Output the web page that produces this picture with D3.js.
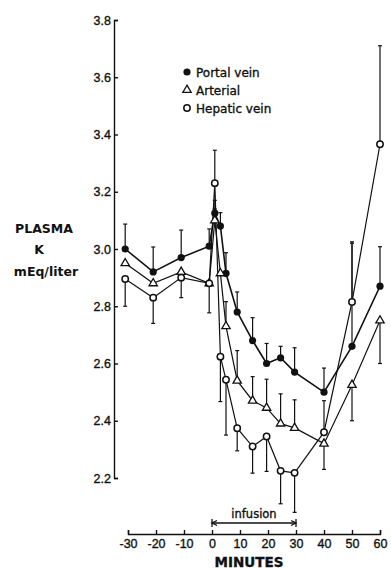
<!DOCTYPE html>
<html>
<head>
<meta charset="utf-8">
<script src="https://cdn.jsdelivr.net/npm/d3@7"></script>
<style>
	body { margin: 0; background: #fff; }
	svg { display: block; font-family: "DejaVu Sans", sans-serif; }
	svg text { fill: #111; stroke: #111; stroke-width: 0.35; }
	.axis text { font-size: 12.5px; }
	.axis path, .axis line { stroke: #111; stroke-width: 1.4; }
</style>
</head>
<body>
<div id="chart"></div>
<script>
/**
 * Data.
 */
var minutes = [-31, -21, -11, -1, 1, 3, 5, 9, 14.5, 19.5, 24.5, 29.5, 40, 50, 60];
var portalVein = [3.00, 2.92, 2.97, 3.01, 3.125, 3.08, 2.915, 2.78, 2.68, 2.60, 2.62, 2.57, 2.50, 2.66, 2.87];
var arterial = [2.95, 2.88, 2.92, 2.88, 3.10, 2.915, 2.73, 2.54, 2.47, 2.445, 2.39, 2.375, 2.32, 2.525, 2.75];
var hepaticVein = [2.895, 2.83, 2.90, 2.88, 3.23, 2.624, 2.543, 2.374, 2.31, 2.345, 2.225, 2.218, 2.36, 2.815, 3.366];
// error bar tips (the value each bar reaches)
var portalErr = [3.087, 3.007, 3.066, 3.07, 3.17, 3.127, 2.987, 2.85, 2.76, 2.67, 2.66, 2.655, 2.584, 3.02, 3.008];
var arterialErr = [null, null, null, null, 3.14, null, 2.816, 2.645, 2.554, 2.545, 2.494, 2.473, 2.23, 2.40, 2.60];
var hepaticErr = [2.80, 2.74, 2.83, 2.777, 3.345, 2.467, 2.35, 2.295, 2.217, 2.223, 2.11, 2.08, 2.47, 3.025, 3.71];
var seriesNames = ["Portal vein", "Arterial", "Hepatic vein"];
var yTicks = [2.2, 2.4, 2.6, 2.8, 3.0, 3.2, 3.4, 3.6, 3.8];
var xTicks = [-30, -20, -10, 0, 10, 20, 30, 40, 50, 60];
var infusion = [0, 30];

{
	var width = 391,
		height = 569;

	var svg = d3.select("#chart").append("svg")
		.attr("width", width)
		.attr("height", height);

	var x = d3.scaleLinear().domain([-30, 60]).range([128, 380]);
	var y = d3.scaleLinear().domain([2.2, 3.8]).range([478, 20]);

	// y axis, ticks pointing into the plot
	svg.append("g")
		.attr("class", "axis")
		.attr("transform", "translate(114,0)")
		.call(d3.axisLeft(y)
			.tickValues(yTicks)
			.tickSize(-4)
			.tickPadding(3)
			.tickFormat(d3.format(".1f")));

	// x axis, separate, below the plot
	svg.append("g")
		.attr("class", "axis")
		.attr("transform", "translate(0,534)")
		.call(d3.axisBottom(x)
			.tickValues(xTicks)
			.tickSize(-4)
			.tickPadding(5)
			.tickFormat(function (d) {
				return String(d);
			}));

	svg.append("text")
		.attr("x", 249)
		.attr("y", 567)
		.attr("text-anchor", "middle")
		.style("font-size", "13.5px")
		.style("font-weight", "bold")
		.text("MINUTES");

	// y label
	var yLabel = [["PLASMA", 44, 233], ["K", 39, 254], ["mEq/liter", 46, 276]];
	yLabel.forEach(function (l) {
		svg.append("text")
			.attr("x", l[1])
			.attr("y", l[2])
			.attr("text-anchor", "middle")
			.style("font-size", "12.5px")
			.style("font-weight", "bold")
			.style("stroke-width", 0)
			.text(l[0]);
	});

	// infusion bracket
	var by = 523;
	var br = svg.append("g").style("stroke", "#111").style("stroke-width", 1.3);
	br.append("line").attr("x1", x(infusion[0])).attr("x2", x(infusion[1])).attr("y1", by).attr("y2", by);
	infusion.forEach(function (t, i) {
		var dir = i == 0 ? 1 : -1;
		br.append("line").attr("x1", x(t)).attr("x2", x(t)).attr("y1", by - 4).attr("y2", by + 4);
		br.append("path")
			.attr("d", "M" + (x(t) + dir * 5) + "," + (by - 2.5) + "L" + x(t) + "," + by + "L" + (x(t) + dir * 5) + "," + (by + 2.5))
			.style("fill", "none");
	});
	svg.append("text")
		.attr("x", (x(infusion[0]) + x(infusion[1])) / 2)
		.attr("y", 518)
		.attr("text-anchor", "middle")
		.style("font-size", "11.5px")
		.text("infusion");

	var series = [
		{ name: seriesNames[0], values: portalVein, err: portalErr, shape: "dot" },
		{ name: seriesNames[1], values: arterial, err: arterialErr, shape: "tri" },
		{ name: seriesNames[2], values: hepaticVein, err: hepaticErr, shape: "ring" }
	];

	var line = d3.line()
		.x(function (d) { return x(d.t); })
		.y(function (d) { return y(d.v); });

	function points(s) {
		return minutes.map(function (t, i) {
			return { t: t, v: s.values[i], e: s.err[i] };
		});
	}

	// lines
	series.forEach(function (s) {
		svg.append("path")
			.datum(points(s))
			.attr("d", line)
			.style("fill", "none")
			.style("stroke", "#111")
			.style("stroke-width", s.shape == "dot" ? 1.6 : 1.2);
	});

	// error bars
	series.forEach(function (s) {
		var g = svg.append("g").style("stroke", "#111").style("stroke-width", 1.2);
		points(s).filter(function (d) { return d.e != null; }).forEach(function (d) {
			g.append("line")
				.attr("x1", x(d.t)).attr("x2", x(d.t))
				.attr("y1", y(d.v)).attr("y2", y(d.e));
			g.append("line")
				.attr("x1", x(d.t) - 2).attr("x2", x(d.t) + 2)
				.attr("y1", y(d.e)).attr("y2", y(d.e));
		});
	});

	function drawMarker(g, shape, cx, cy) {
		if (shape == "dot") {
			g.append("circle").attr("cx", cx).attr("cy", cy).attr("r", 3.6)
				.style("fill", "#111");
		} else if (shape == "ring") {
			g.append("circle").attr("cx", cx).attr("cy", cy).attr("r", 3.2)
				.style("fill", "#fff").style("stroke", "#111").style("stroke-width", 1.5);
		} else {
			g.append("path")
				.attr("d", d3.symbol().type(d3.symbolTriangle).size(30)())
				.attr("transform", "translate(" + cx + "," + cy + ")")
				.style("fill", "#fff").style("stroke", "#111").style("stroke-width", 1.3);
		}
	}

	// markers
	series.forEach(function (s) {
		var g = svg.append("g");
		points(s).forEach(function (d) {
			drawMarker(g, s.shape, x(d.t), y(d.v));
		});
	});

	// legend
	series.forEach(function (s, i) {
		var ly = 72 + i * 18;
		drawMarker(svg, s.shape, 187, ly);
		svg.append("text")
			.attr("x", 196)
			.attr("y", ly + 4.5)
			.style("font-size", "12px")
			.text(s.name);
	});
}
</script>
</body>
</html>
